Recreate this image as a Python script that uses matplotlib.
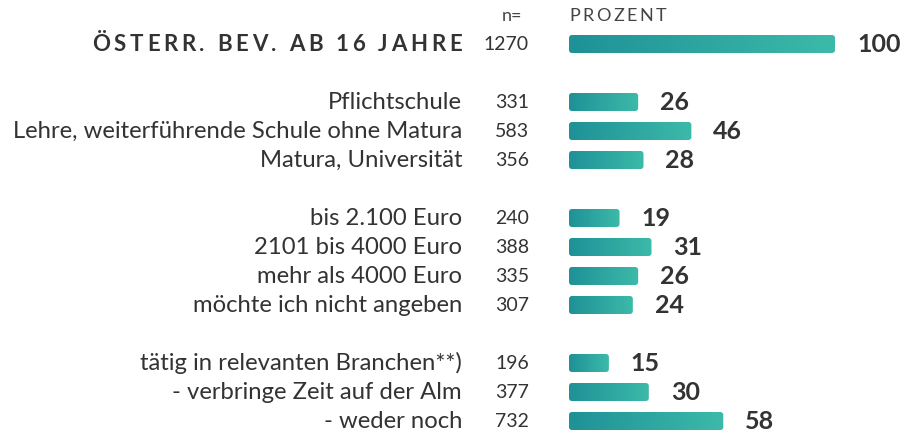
import matplotlib
matplotlib.use("Agg")
import matplotlib.pyplot as plt
import numpy as np
from matplotlib.patches import FancyBboxPatch
from matplotlib.colors import LinearSegmentedColormap

# --- data ---
total_label = "ÖSTERR. BEV. AB 16 JAHRE"
total_n = 1270
total_value = 100

groups = [
    ["Pflichtschule", "Lehre, weiterführende Schule ohne Matura", "Matura, Universität"],
    ["bis 2.100 Euro", "2101 bis 4000 Euro", "mehr als 4000 Euro", "möchte ich nicht angeben"],
    ["tätig in relevanten Branchen**)", "- verbringe Zeit auf der Alm", "- weder noch"],
]
group_n = [
    [331, 583, 356],
    [240, 388, 335, 307],
    [196, 377, 732],
]
group_values = [
    [26, 46, 28],
    [19, 31, 26, 24],
    [15, 30, 58],
]

plt.rcParams["font.family"] = ["Lato", "DejaVu Sans"]
TEXT = "#333333"
cmap = LinearSegmentedColormap.from_list("teal", ["#1f9197", "#3cbaa9"])

W, H = 901, 436
fig = plt.figure(figsize=(W / 100, H / 100), dpi=100)
ax = fig.add_axes([0, 0, 1, 1])
ax.axis("off")

# layout in pixels -> data units
x0_px, px_per_unit = 569, 2.66
row0_px, row_px = 44, 29.0
xlim = (-x0_px / px_per_unit, (W - x0_px) / px_per_unit)
ylim = ((H - row0_px) / row_px, -row0_px / row_px)


def px_x(p):
    return (p - x0_px) / px_per_unit


# build rows
rows = [(total_label, total_n, total_value, True)]
positions = [0]
pos = 1
for labels, ns, vals in zip(groups, group_n, group_values):
    pos += 1
    for lab, n, v in zip(labels, ns, vals):
        rows.append((lab, n, v, False))
        positions.append(pos)
        pos += 1

bar_h = 18 / row_px
grad = np.linspace(0, 1, 256).reshape(1, -1)


def spaced_text(x, y, s, spacing, ha="left", **kw):
    """Draw text with letter spacing (in x data units)."""
    r = fig.canvas.get_renderer()
    widths = []
    for ch in s:
        t = ax.text(0, 0, ch, **kw)
        bb = t.get_window_extent(renderer=r)
        widths.append(bb.width / px_per_unit)
        t.remove()
    total = sum(widths) + spacing * (len(s) - 1)
    cx = x - total if ha == "right" else x
    for ch, w in zip(s, widths):
        ax.text(cx, y, ch, ha="left", **kw)
        cx += w + spacing


ax.set_xlim(*xlim)
ax.set_ylim(*ylim)

for (lab, n, v, is_total), y in zip(rows, positions):
    patch = FancyBboxPatch(
        (0, y - bar_h / 2), v, bar_h,
        boxstyle="round,pad=0,rounding_size=1.1",
        mutation_aspect=px_per_unit / row_px,
        facecolor="none", edgecolor="none",
    )
    ax.add_patch(patch)
    im = ax.imshow(grad, cmap=cmap, aspect="auto",
                   extent=(0, v, y + bar_h / 2, y - bar_h / 2),
                   interpolation="bilinear")
    im.set_clip_path(patch)
    ax.text(v + 22 / px_per_unit, y, f"{v}", ha="left", va="center",
            fontsize=18, fontweight="bold", color=TEXT)
    ax.text(px_x(529), y, f"{n}", ha="right", va="center",
            fontsize=14, color=TEXT)
    if is_total:
        spaced_text(px_x(462), y, lab, 3.7 / px_per_unit, ha="right",
                    va="center", fontsize=16, fontweight="bold", color=TEXT)
    else:
        ax.text(px_x(462), y, lab, ha="right", va="center",
                fontsize=17.2, color=TEXT)

hy = (16 - row0_px) / row_px
ax.text(px_x(512), hy, "n=", ha="center", va="center", fontsize=13, color="#444444")
spaced_text(0, hy, "PROZENT", 2.6 / px_per_unit, va="center",
            fontsize=13, color="#444444")

ax.set_xlim(*xlim)
ax.set_ylim(*ylim)
fig.savefig("out.png", dpi=100)
